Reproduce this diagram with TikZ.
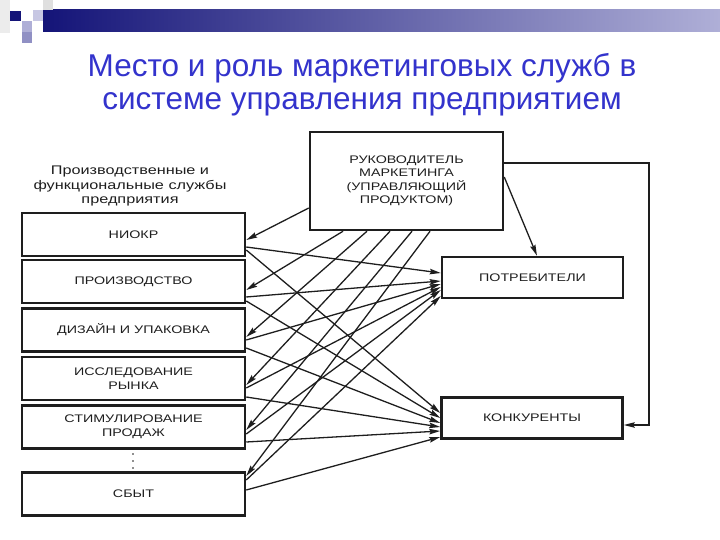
\documentclass[tikz,border=0pt]{standalone}
\usepackage{fontspec}
\setmainfont{Liberation Sans}
\newfontfamily\wideface[FakeStretch=1.3]{Liberation Sans}
\usetikzlibrary{arrows.meta,calc}
\definecolor{titleblue}{RGB}{51,51,204}
\definecolor{navybar}{RGB}{20,20,120}
\definecolor{barlight}{RGB}{175,175,215}
\definecolor{inkc}{RGB}{30,30,30}
\tikzset{
  svc/.style={draw=inkc, line width=2.5pt, minimum width=223pt, minimum height=43pt, inner sep=0pt, font=\wideface\fontsize{11}{13.5}\selectfont, align=center, text=inkc},
  rbox/.style={draw=inkc, line width=2.5pt, minimum width=181pt, minimum height=41pt, inner sep=0pt, font=\wideface\fontsize{11}{13.5}\selectfont, text=inkc},
  conn/.style={draw=inkc, line width=1.3pt, -{Stealth[length=11pt,width=5.5pt,inset=1.5pt]}}
}
\begin{document}
\begin{tikzpicture}[x=1pt,y=-1pt]
\useasboundingbox (0,0) rectangle (720,540);
% decoration
\shade[left color=navybar, right color=barlight] (43,10) rectangle (720,32);
\fill[gray!15] (0,0) rectangle (10,33);
\fill[gray!25] (43,0) rectangle (53,10);
\fill[navybar] (10,11) rectangle (21,21);
\fill[barlight!70] (33,10) rectangle (43,21);
\fill[barlight] (22,21) rectangle (32,32);
\fill[barlight!80!navybar] (22,32) rectangle (32,43);
% title
\node[text=titleblue, font=\fontsize{31.5}{33}\selectfont, align=center] (title) at (362,85) {Место и роль маркетинговых служб в\\системе управления предприятием};
% header
\node[font=\wideface\fontsize{12.5}{14.5}\selectfont, align=center, text=inkc] (hdr) at (130,186) {Производственные и\\функциональные службы\\предприятия};
% left column
\node[svc] (n1) at (133.5,234.5) {НИОКР};
\node[svc] (n2) at (133.5,281.5) {ПРОИЗВОДСТВО};
\node[svc] (n3) at (133.5,330) {ДИЗАЙН И УПАКОВКА};
\node[svc] (n4) at (133.5,378.5) {ИССЛЕДОВАНИЕ\\РЫНКА};
\node[svc] (n5) at (133.5,427) {СТИМУЛИРОВАНИЕ\\ПРОДАЖ};
\node[svc] (n6) at (133.5,494) {СБЫТ};
\fill[inkc] (133,454) circle (0.9pt) (133,461) circle (0.9pt) (133,468) circle (0.9pt);
% top box
\node[draw=inkc, line width=2.5pt, minimum width=193pt, minimum height=98pt, inner sep=0pt, font=\wideface\fontsize{11}{13.5}\selectfont, align=center, text=inkc] (top) at (406.5,181) {РУКОВОДИТЕЛЬ\\МАРКЕТИНГА\\(УПРАВЛЯЮЩИЙ\\ПРОДУКТОМ)};
% right boxes
\node[rbox] (cons) at (532.5,277.5) {ПОТРЕБИТЕЛИ};
\node[rbox] (comp) at (532,418) {КОНКУРЕНТЫ};
% top box to services
\draw[conn] ([yshift=-27pt]top.west) -- ([yshift=-5.5pt]n1.east);
\draw[conn] ([xshift=-63.5pt]top.south) -- ([yshift=-8.5pt]n2.east);
\draw[conn] ([xshift=-39.5pt]top.south) -- ([yshift=-7pt]n3.east);
\draw[conn] ([xshift=-16.5pt]top.south) -- ([yshift=-6.5pt]n4.east);
\draw[conn] ([xshift=5.5pt]top.south) -- ([yshift=-3pt]n5.east);
\draw[conn] ([xshift=23.5pt]top.south) -- ([yshift=18pt]n6.east);
% top box to consumers
\draw[conn] ([yshift=4pt]top.east) -- ([xshift=4.5pt]cons.north);
% feedback to competitors
\coordinate (fb1) at (649,163);
\coordinate (fb2) at (649,425);
\draw[conn] ([yshift=18pt]top.east) -- (fb1) -- (fb2) -- (comp.east |- fb2);
% services to consumers
\draw[conn] ([yshift=-12.5pt]n1.east) -- ([yshift=4.5pt]cons.west);
\draw[conn] ([yshift=-15.5pt]n2.east) -- ([yshift=-3.5pt]cons.west);
\draw[conn] ([yshift=-10pt]n3.east) -- ([yshift=-6.5pt]cons.west);
\draw[conn] ([yshift=-9.5pt]n4.east) -- ([yshift=-9.5pt]cons.west);
\draw[conn] ([yshift=-7pt]n5.east) -- ([yshift=-12.5pt]cons.west);
\draw[conn] ([yshift=14pt]n6.east) -- ([yshift=-18.5pt]cons.west);
% services to competitors
\draw[conn] ([yshift=-15.5pt]n1.east) -- ([yshift=5pt]comp.west);
\draw[conn] ([yshift=-19.5pt]n2.east) -- ([yshift=0pt]comp.west);
\draw[conn] ([yshift=-18pt]n3.east) -- ([yshift=-5pt]comp.west);
\draw[conn] ([yshift=-18.5pt]n4.east) -- ([yshift=-9pt]comp.west);
\draw[conn] ([yshift=-15pt]n5.east) -- ([yshift=-13pt]comp.west);
\draw[conn] ([yshift=4pt]n6.east) -- ([yshift=-19pt]comp.west);
\end{tikzpicture}
\end{document}
